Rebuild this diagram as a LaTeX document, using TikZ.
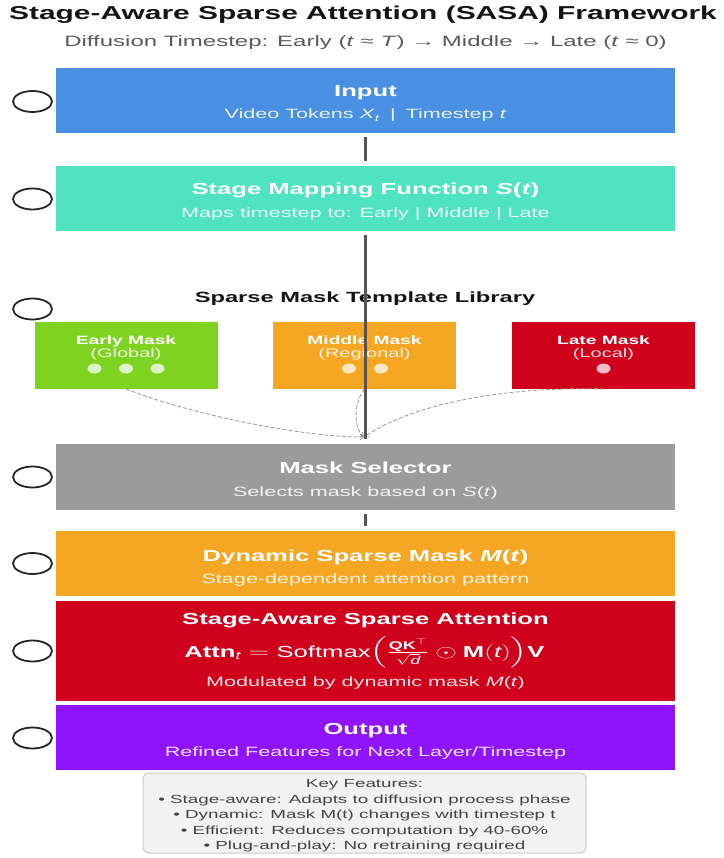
\documentclass[tikz,border=0pt]{standalone}
\usepackage{amsmath}
\usepackage{fontspec}
\setmainfont{Liberation Sans}[FakeStretch=1.6]
\newfontfamily\plainfont{Liberation Sans}
\usetikzlibrary{shapes.geometric,arrows.meta}
\definecolor{cinput}{HTML}{4A90E2}
\definecolor{cmap}{HTML}{50E3C2}
\definecolor{cgreen}{HTML}{7ED321}
\definecolor{corange}{HTML}{F5A623}
\definecolor{cred}{HTML}{D0021B}
\definecolor{cgray}{HTML}{9B9B9B}
\definecolor{cpurple}{HTML}{9013FE}
\definecolor{linegray}{HTML}{555555}
\definecolor{dashgray}{HTML}{999999}
\definecolor{titlecol}{HTML}{151515}
\definecolor{subcol}{HTML}{5A5A5A}
\definecolor{keyfill}{HTML}{F2F2F2}
\definecolor{keydraw}{HTML}{CCCCCC}
\definecolor{keytext}{HTML}{444444}
\begin{document}
\begin{tikzpicture}[x=1pt,y=-1pt,
  bigbox/.style={rectangle, inner sep=0pt, outer sep=0pt, minimum width=619pt},
  ttl/.style={anchor=base, text=white, font=\fontsize{16}{19}\selectfont\bfseries, inner sep=0pt},
  sub/.style={anchor=base, text=white, text opacity=0.88, font=\fontsize{13.5}{16}\selectfont, inner sep=0pt},
  ring/.style={ellipse, draw=black!85, line width=1.8pt, minimum width=39pt, minimum height=21pt, inner sep=0pt},
  mbox/.style={rectangle, minimum width=183pt, minimum height=67pt, inner sep=0pt, outer sep=0pt},
  mttl/.style={anchor=base, text=white, font=\fontsize{12}{14}\selectfont\bfseries, inner sep=0pt},
  msub/.style={anchor=base, text=white, text opacity=0.85, font=\fontsize{12.5}{14}\selectfont, inner sep=0pt},
  mdot/.style={ellipse, fill=white, fill opacity=0.75, minimum width=14pt, minimum height=10pt, inner sep=0pt},
  conn/.style={draw=linegray, line width=3pt},
  sel/.style={draw=dashgray, dash pattern=on 4pt off 2pt, line width=0.8pt, -{Straight Barb[length=3.5pt,width=6pt]}},
  keyline/.style={anchor=base, text=keytext, font=\fontsize{11.75}{14}\selectfont, inner sep=0pt}
]
\useasboundingbox (0,0) rectangle (723,858);
\fill[white] (0,0) rectangle (723,858);

% title
\node[anchor=base, text=titlecol, font=\fontsize{18.7}{22}\selectfont\bfseries, inner sep=0pt] (title) at (363,20) {Stage-Aware Sparse Attention (SASA) Framework};
\node[anchor=base, text=subcol, font=\fontsize{15}{17}\selectfont, inner sep=0pt] (subtitle) at (365.5,46.5) {Diffusion Timestep: Early (\textit{t} ≈ \textit{T}) → Middle → Late (\textit{t} ≈ 0)};

% main boxes
\node[bigbox, fill=cinput, minimum height=65pt] (input) at (365.5,100.5) {};
\node[bigbox, fill=cmap, minimum height=65pt] (mapping) at (365.5,198.5) {};
\node[bigbox, fill=cgray, minimum height=66pt] (selector) at (365.5,477) {};
\node[bigbox, fill=corange, minimum height=65pt] (dyn) at (365.5,563.5) {};
\node[bigbox, fill=cred, minimum height=100pt] (attn) at (365.5,651) {};
\node[bigbox, fill=cpurple, minimum height=65pt] (output) at (365.5,737.5) {};

% rings
\node[ring] (r1) at (32.5,101.5) {};
\node[ring] (r2) at (32.5,199) {};
\node[ring] (r3) at (32.5,309) {};
\node[ring] (r4) at (32.5,477) {};
\node[ring] (r5) at (32.5,563.5) {};
\node[ring] (r6) at (32.5,651) {};
\node[ring] (r7) at (32.5,738) {};

% box texts
\node[ttl] (inT) at (365.5,97) {Input};
\node[sub] (inS) at (365.5,119) {Video Tokens \textit{X}\textsubscript{\textit{t}}\hspace{10pt}|\hspace{10pt}Timestep \textit{t}};
\node[ttl] (mapT) at (365.5,195) {Stage Mapping Function \textit{S}(\textit{t})};
\node[sub] (mapS) at (365.5,218) {Maps timestep to: Early | Middle | Late};

\node[anchor=base, text=titlecol, font=\fontsize{14.8}{17}\selectfont\bfseries, inner sep=0pt] (libT) at (365,302) {Sparse Mask Template Library};

\node[mbox, fill=cgreen] (early) at (126,355.5) {};
\node[mbox, fill=corange] (middle) at (364.5,355.5) {};
\node[mbox, fill=cred] (late) at (603.5,355.5) {};
\node[mttl] (eT) at (126,344.5) {Early Mask};
\node[msub] (eS) at (126,357.5) {(Global)};
\node[mttl] (mT) at (364.5,344.5) {Middle Mask};
\node[msub] (mS) at (364.5,357.5) {(Regional)};
\node[mttl] (lT) at (603.5,344.5) {Late Mask};
\node[msub] (lS) at (603.5,357.5) {(Local)};
\node[mdot] (ed1) at (94.5,368.5) {};
\node[mdot] (ed2) at (126,368.5) {};
\node[mdot] (ed3) at (157.5,368.5) {};
\node[mdot] (md1) at (349,368.5) {};
\node[mdot] (md2) at (381,368.5) {};
\node[mdot] (ld1) at (603.5,368.5) {};

\node[ttl] (selT) at (365.5,473) {Mask Selector};
\node[sub] (selS) at (365.5,496) {Selects mask based on \textit{S}(\textit{t})};
\node[ttl] (dynT) at (365.5,561) {Dynamic Sparse Mask \textit{M}(\textit{t})};
\node[sub] (dynS) at (365.5,583) {Stage-dependent attention pattern};
\node[ttl] (attT) at (365.5,624.5) {Stage-Aware Sparse Attention};
\node[anchor=base, text=white, inner sep=0pt] (attF) at (364.5,657) {\scalebox{1.6}[1]{\plainfont\fontsize{16}{18}\selectfont$\textbf{Attn}_{\textit{t}} = \text{Softmax}\Bigl(\frac{\textbf{QK}^{\top}}{\sqrt{\textit{d}}}\odot\textbf{M}(\textit{t})\Bigr)\textbf{V}$}};
\node[sub] (attS) at (365.5,686) {Modulated by dynamic mask \textit{M}(\textit{t})};
\node[ttl] (outT) at (365.5,734) {Output};
\node[sub] (outS) at (365.5,756) {Refined Features for Next Layer/Timestep};

% key features
\node[rectangle, rounded corners=6pt, fill=keyfill, draw=keydraw, line width=1pt, minimum width=443pt, minimum height=80pt] (keys) at (364.5,813) {};
\node[keyline] (k0) at (364.5,787) {Key Features:};
\node[keyline] (k1) at (364.5,803) {• Stage-aware: Adapts to diffusion process phase};
\node[keyline] (k2) at (364.5,818) {• Dynamic: Mask M(t) changes with timestep t};
\node[keyline] (k3) at (364.5,834) {• Efficient: Reduces computation by 40-60\%};
\node[keyline] (k4) at (364.5,849) {• Plug-and-play: No retraining required};

% dashed selection curves
\coordinate (selin) at (364,437);
\draw[sel] (early.south) .. controls (190,414) and (300,437) .. (selin);
\draw[sel] (middle.south) .. controls (352,405) and (355,430) .. (selin);
\draw[sel] (late.south) .. controls (480,386) and (400,412) .. (selin);

% solid connectors
\draw[conn, shorten <=4pt, shorten >=5pt] (input) -- (mapping);
\draw[conn, shorten <=4pt, shorten >=5pt] (mapping) -- (selector);
\draw[conn, shorten <=4pt, shorten >=5pt] (selector) -- (dyn);
\end{tikzpicture}
\end{document}
